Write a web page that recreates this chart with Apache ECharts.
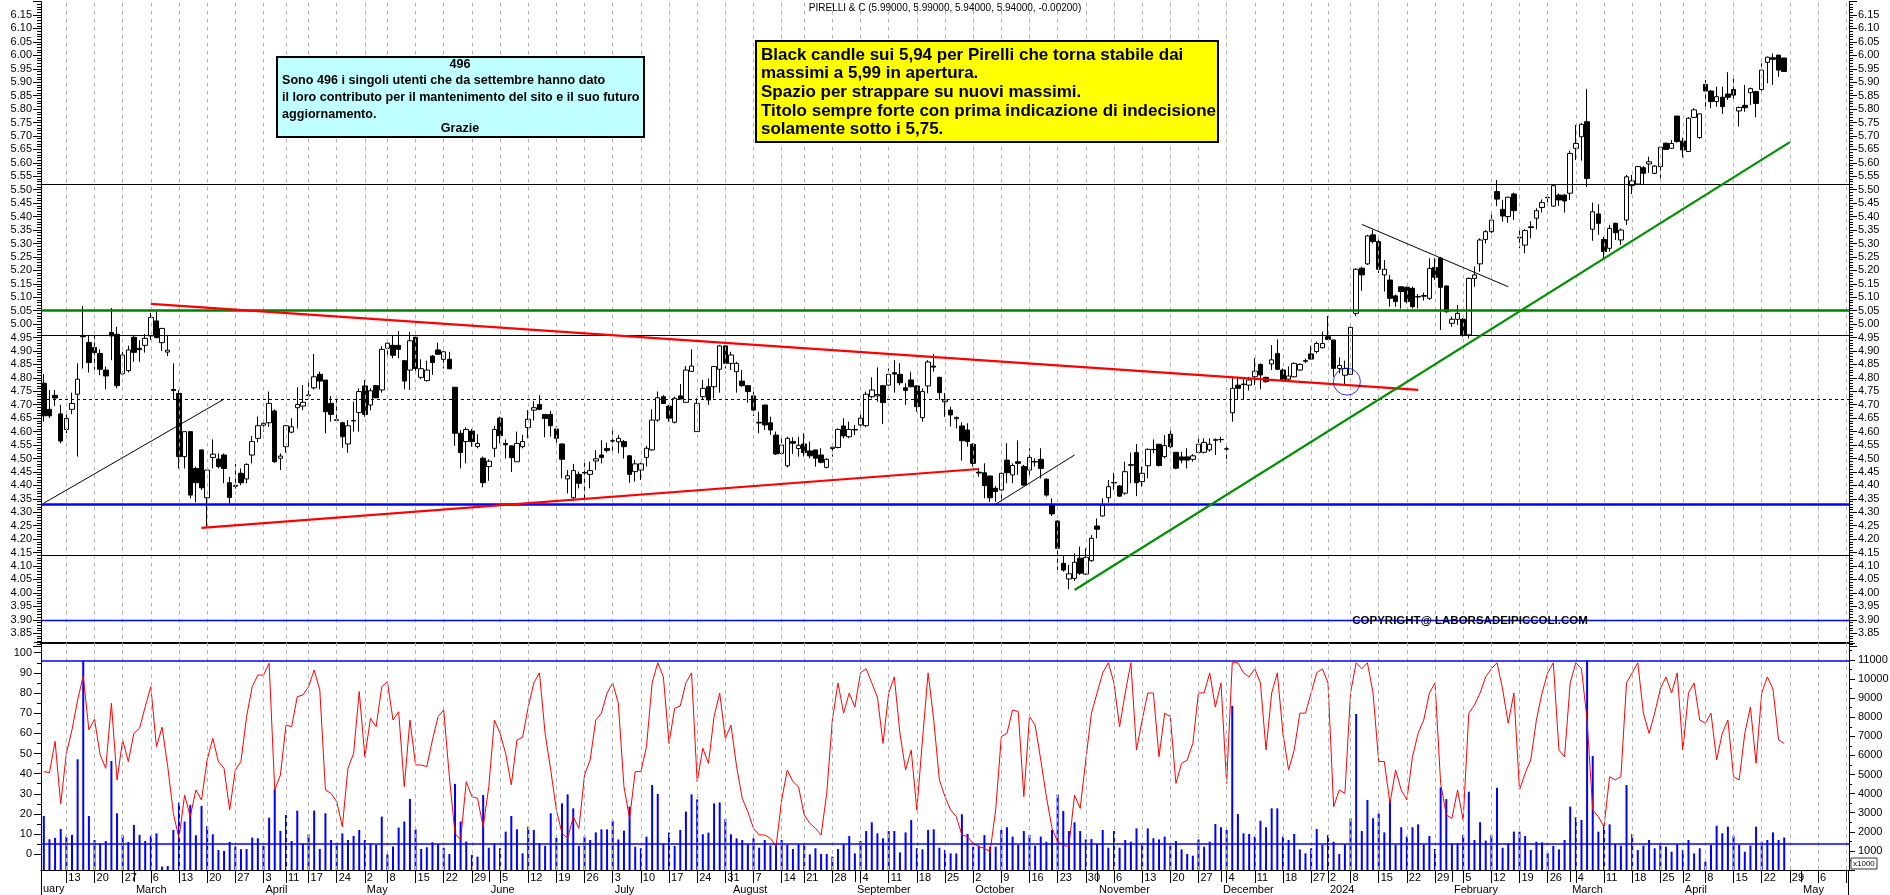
<!DOCTYPE html>
<html><head><meta charset="utf-8">
<script src="https://cdn.jsdelivr.net/npm/echarts/dist/echarts.min.js"></script>
<style>html,body{margin:0;padding:0;background:#fff;}#c{width:1890px;height:895px;}</style>
</head><body><div id="c"></div>
<script>
// ---------- DATA ----------
const holidays = ['2023-04-07','2023-04-10','2023-05-01','2023-08-15','2023-12-25','2023-12-26','2024-01-01','2024-03-29','2024-04-01'];
const firstDay = '2023-02-07', lastTradingDay = '2024-04-26', axisEnd = '2024-05-13';

const opens = [
4.780,4.683,4.735,4.666,4.608,4.683,4.739,4.958,4.932,4.913, 4.891,4.829,4.969,4.962,4.815,4.827,4.951,4.910,4.921,4.956,
5.012,4.931,4.896,4.757,4.742,4.507,4.600,4.463,4.532,4.354, 4.504,4.498,4.513,4.410,4.400,4.445,4.424,4.513,4.575,4.624,
4.633,4.677,4.501,4.544,4.598,4.689,4.695,4.736,4.763,4.813, 4.792,4.705,4.644,4.633,4.554,4.641,4.671,4.770,4.699,4.771,
4.755,4.910,4.921,4.921,4.864,4.829,4.951,4.802,4.790,4.881, 4.904,4.869,4.869,4.765,4.594,4.563,4.602,4.545,4.501,4.470,
4.538,4.650,4.556,4.547,4.488,4.544,4.615,4.680,4.701,4.664, 4.664,4.610,4.554,4.424,4.354,4.441,4.448,4.441,4.491,4.513,
4.537,4.566,4.562,4.563,4.510,4.451,4.457,4.504,4.532,4.643, 4.730,4.695,4.635,4.733,4.709,4.824,4.600,4.730,4.767,4.767,
4.832,4.919,4.854,4.823,4.788,4.771,4.733,4.635,4.699,4.633, 4.587,4.519,4.473,4.563,4.537,4.554,4.528,4.532,4.513,4.467,
4.537,4.541,4.621,4.581,4.608,4.625,4.622,4.730,4.733,4.771, 4.773,4.819,4.813,4.763,4.792,4.770,4.652,4.770,4.844,4.802,
4.711,4.680,4.648,4.621,4.606,4.553,4.449,4.447,4.435,4.389, 4.383,4.494,4.439,4.488,4.470,4.457,4.489,4.497,4.423,4.327,
4.267,4.110,4.052,4.054,4.129,4.070,4.120,4.249,4.286,4.354, 4.411,4.398,4.371,4.477,4.522,4.414,4.473,4.534,4.553,4.507,
4.590,4.523,4.506,4.506,4.497,4.522,4.523,4.532,4.570,4.571, 4.536,4.670,4.773,4.777,4.773,4.804,4.850,4.802,4.852,4.891,
4.829,4.795,4.804,4.829,4.864,4.889,4.898,4.912,4.953,4.941, 4.835,4.810,4.813,5.040,5.208,5.224,5.332,5.307,5.183,5.164,
5.105,5.139,5.137,5.133,5.103,5.106,5.096,5.211,5.245,5.142, 5.003,5.018,5.018,4.960,5.170,5.224,5.315,5.344,5.493,5.427,
5.400,5.484,5.323,5.294,5.362,5.394,5.434,5.472,5.439,5.480, 5.480,5.487,5.654,5.697,5.753,5.353,5.410,5.315,5.282,5.375,
5.313,5.387,5.515,5.521,5.582,5.596,5.561,5.586,5.673,5.654, 5.774,5.681,5.642,5.769,5.694,5.892,5.867,5.828,5.844,5.856,
5.873,5.793,5.814,5.861,5.865,5.873,5.974,5.991,6.001,5.990];
const highs = [
4.814,4.755,4.755,4.700,4.668,4.745,4.854,5.067,4.960,4.960, 4.906,4.842,5.060,4.990,4.897,4.920,4.960,4.940,4.963,5.042,
5.052,4.984,4.960,4.854,4.755,4.600,4.600,4.470,4.532,4.457, 4.571,4.519,4.519,4.432,4.480,4.463,4.482,4.584,4.656,4.643,
4.749,4.683,4.519,4.625,4.650,4.765,4.773,4.786,4.889,4.823, 4.792,4.732,4.724,4.637,4.643,4.711,4.761,4.792,4.761,4.773,
4.918,4.941,4.960,4.974,4.866,4.971,4.953,4.869,4.864,4.885, 4.931,4.900,4.897,4.765,4.606,4.616,4.610,4.590,4.507,4.497,
4.621,4.656,4.571,4.547,4.600,4.588,4.680,4.714,4.736,4.664, 4.677,4.621,4.556,4.457,4.480,4.451,4.485,4.488,4.531,4.568,
4.559,4.609,4.587,4.569,4.513,4.495,4.485,4.547,4.683,4.749, 4.736,4.699,4.730,4.777,4.844,4.906,4.724,4.792,4.798,4.842,
4.922,4.919,4.897,4.860,4.829,4.773,4.749,4.674,4.699,4.656, 4.600,4.575,4.581,4.579,4.581,4.594,4.563,4.532,4.538,4.501,
4.544,4.612,4.650,4.637,4.625,4.668,4.749,4.802,4.839,4.773, 4.835,4.866,4.854,4.780,4.823,4.773,4.761,4.866,4.889,4.804,
4.744,4.693,4.656,4.634,4.631,4.557,4.463,4.482,4.435,4.398, 4.447,4.557,4.482,4.567,4.476,4.538,4.501,4.538,4.426,4.352,
4.271,4.137,4.104,4.147,4.172,4.166,4.215,4.277,4.352,4.420, 4.447,4.401,4.488,4.522,4.554,4.470,4.538,4.571,4.553,4.587,
4.609,4.523,4.525,4.538,4.516,4.581,4.575,4.575,4.575,4.581, 4.550,4.804,4.804,4.798,4.804,4.873,4.854,4.804,4.922,4.943,
4.835,4.842,4.857,4.854,4.872,4.920,4.935,4.972,5.030,4.941, 4.876,4.864,4.990,5.208,5.214,5.332,5.350,5.315,5.238,5.183,
5.110,5.139,5.140,5.140,5.112,5.117,5.245,5.245,5.250,5.142, 5.028,5.071,5.022,5.174,5.214,5.319,5.350,5.418,5.536,5.462,
5.474,5.489,5.360,5.353,5.383,5.431,5.464,5.484,5.520,5.486, 5.484,5.645,5.741,5.749,5.875,5.452,5.446,5.325,5.369,5.377,
5.356,5.555,5.555,5.588,5.588,5.623,5.592,5.660,5.675,5.685, 5.774,5.694,5.770,5.803,5.784,5.908,5.871,5.883,5.883,5.937,
5.914,5.809,5.890,5.880,5.868,5.970,5.995,6.007,6.001,5.990];
const lows = [
4.637,4.650,4.695,4.556,4.594,4.665,4.507,4.835,4.820,4.830, 4.810,4.757,4.866,4.761,4.810,4.820,4.860,4.860,4.894,4.941,
4.947,4.900,4.881,4.718,4.463,4.463,4.352,4.337,4.383,4.243, 4.463,4.463,4.408,4.333,4.388,4.401,4.408,4.482,4.560,4.600,
4.618,4.484,4.457,4.522,4.594,4.612,4.680,4.720,4.757,4.757, 4.594,4.637,4.637,4.540,4.522,4.600,4.600,4.655,4.680,4.724,
4.745,4.881,4.873,4.873,4.757,4.755,4.823,4.795,4.786,4.811, 4.885,4.835,4.832,4.547,4.463,4.482,4.544,4.538,4.393,4.417,
4.505,4.556,4.500,4.450,4.488,4.538,4.575,4.641,4.680,4.579, 4.581,4.550,4.426,4.370,4.343,4.389,4.351,4.389,4.457,4.482,
4.522,4.517,4.519,4.500,4.410,4.414,4.420,4.470,4.529,4.637, 4.703,4.637,4.630,4.720,4.708,4.823,4.600,4.718,4.699,4.724,
4.745,4.835,4.829,4.745,4.767,4.708,4.658,4.594,4.606,4.588, 4.513,4.513,4.467,4.517,4.507,4.507,4.500,4.470,4.482,4.463,
4.507,4.538,4.575,4.575,4.587,4.618,4.616,4.724,4.711,4.628, 4.771,4.745,4.773,4.699,4.765,4.674,4.637,4.743,4.823,4.718,
4.655,4.619,4.612,4.492,4.544,4.470,4.432,4.352,4.339,4.339, 4.339,4.408,4.408,4.439,4.399,4.432,4.470,4.426,4.358,4.286,
4.085,4.079,4.013,4.044,4.067,4.067,4.116,4.203,4.284,4.336, 4.383,4.358,4.365,4.408,4.360,4.395,4.426,4.519,4.470,4.501,
4.538,4.460,4.482,4.463,4.488,4.519,4.519,4.525,4.513,4.559, 4.482,4.637,4.718,4.718,4.753,4.774,4.757,4.782,4.829,4.829,
4.790,4.792,4.802,4.827,4.855,4.869,4.891,4.910,4.941,4.804, 4.817,4.773,4.811,5.030,5.124,5.220,5.300,5.190,5.121,5.065,
5.065,5.058,5.077,5.058,5.058,5.087,5.090,5.164,4.978,5.042, 4.990,4.997,4.953,4.947,5.139,5.195,5.300,5.338,5.439,5.381,
5.377,5.387,5.282,5.263,5.319,5.353,5.415,5.452,5.437,5.439, 5.415,5.462,5.610,5.608,5.511,5.310,5.332,5.239,5.270,5.313,
5.294,5.369,5.484,5.518,5.518,5.563,5.558,5.542,5.648,5.654, 5.675,5.620,5.642,5.766,5.689,5.803,5.803,5.809,5.782,5.834,
5.828,5.735,5.790,5.815,5.769,5.856,5.896,5.890,5.920,5.940];
const closes = [
4.659,4.659,4.725,4.565,4.649,4.705,4.795,4.953,4.857,4.894, 4.832,4.807,4.956,4.771,4.885,4.904,4.895,4.905,4.947,5.025,
4.950,4.984,4.903,4.753,4.507,4.600,4.364,4.410,4.391,4.457, 4.516,4.470,4.463,4.355,4.397,4.410,4.478,4.563,4.622,4.631,
4.705,4.488,4.509,4.622,4.618,4.701,4.709,4.734,4.804,4.788, 4.674,4.664,4.642,4.581,4.622,4.640,4.749,4.664,4.752,4.726,
4.906,4.929,4.884,4.906,4.788,4.938,4.835,4.834,4.829,4.857, 4.888,4.897,4.834,4.594,4.522,4.608,4.563,4.556,4.410,4.490,
4.608,4.585,4.551,4.503,4.556,4.563,4.646,4.689,4.683,4.649, 4.622,4.575,4.497,4.436,4.455,4.408,4.446,4.455,4.499,4.504,
4.530,4.565,4.575,4.544,4.441,4.480,4.480,4.538,4.643,4.726, 4.705,4.650,4.724,4.721,4.829,4.844,4.705,4.761,4.718,4.842,
4.919,4.854,4.885,4.854,4.771,4.749,4.680,4.632,4.625,4.606, 4.517,4.550,4.575,4.557,4.549,4.522,4.510,4.501,4.486,4.497,
4.542,4.608,4.584,4.608,4.606,4.650,4.739,4.755,4.738,4.708, 4.813,4.814,4.782,4.753,4.767,4.693,4.749,4.859,4.840,4.745,
4.718,4.662,4.653,4.566,4.563,4.482,4.446,4.399,4.354,4.377, 4.445,4.447,4.474,4.482,4.401,4.504,4.487,4.463,4.364,4.294,
4.166,4.085,4.071,4.114,4.073,4.132,4.203,4.237,4.327,4.395, 4.409,4.360,4.451,4.475,4.410,4.445,4.534,4.533,4.474,4.548,
4.544,4.464,4.494,4.494,4.510,4.553,4.560,4.553,4.568,4.570, 4.535,4.761,4.761,4.775,4.792,4.825,4.811,4.786,4.867,4.832,
4.792,4.807,4.854,4.850,4.862,4.870,4.928,4.928,4.943,4.835, 4.846,4.835,4.988,5.204,5.183,5.328,5.307,5.204,5.204,5.096,
5.084,5.121,5.084,5.065,5.101,5.104,5.207,5.174,5.137,5.046, 5.018,5.040,4.960,5.170,5.183,5.313,5.344,5.387,5.465,5.402,
5.472,5.422,5.321,5.348,5.359,5.422,5.452,5.470,5.515,5.462, 5.458,5.635,5.672,5.743,5.542,5.418,5.375,5.270,5.356,5.340,
5.350,5.548,5.533,5.586,5.561,5.604,5.588,5.658,5.650,5.672, 5.679,5.648,5.766,5.797,5.782,5.867,5.828,5.846,5.809,5.844,
5.852,5.806,5.805,5.876,5.821,5.945,5.993,5.985,5.945,5.940];
const stoch = [
41,40.5,56,25,50,61.7,76.5,88.4,61.7,67, 49.3,42.6,74.9,36.8,56.7,46,60,62.5,73.2,83.1,
53.4,63,43.5,20.3,7.9,29.4,18.7,31.9,26.9,46.8, 57.5,46,42.6,22,41.8,46,68.3,83.1,88.9,88.9,
94.7,31.9,39.3,64.1,63.3,78.2,79,83.1,91.4,81.5, 31.9,30.2,26.1,13.7,42.6,50.1,80.7,48.4,67.4,63.3,
83.1,85.6,66.6,70.7,33.5,66.6,44.3,44.3,43.5,56.7, 68.3,71.6,38.5,10.4,7.1,36,28.6,27.8,13.7,33.5,
66.6,60,50,34.4,56.7,58,73,85,90,60, 41.8,22,10.4,7.9,18.7,12.9,39.3,46.8,66.6,70,
80,85,75,33.5,17.8,41,41,53.4,85,95, 88,55,72.4,73.6,85,90,36,52.6,45.1,68.3,
80,57.5,64.1,43.5,27.8,21.1,12.9,9.6,9.6,7.9, 3.8,27,41.8,36,33.5,19.5,15.4,12.9,9.6,30.2,
66.6,85,70,80,73,90,92,85,78,55, 80,88,60,41.8,51.7,22,56.7,90,66.6,36.9,
28.6,22,18.7,9.6,8.8,5.4,3.8,3,1.3,22, 58.4,60,71.6,70.8,28.6,68.3,64.1,46.8,28.6,12.9,
6.3,4.6,3.8,29.4,22.8,46.8,70,80,90,95, 85,63.3,80,95,51.7,66.6,80,80,48.4,70,
68.3,35.2,45,46.8,55,80,80,90,73,85, 35.2,95,95,90,88,92,85,51.7,80,90,
60,41.8,51.7,70,70,80,90,92,85,23.6, 31.9,30.2,80,95,92,95,80,46,46,25.3,
41.8,31.9,27,48.4,60,66.6,80,85,35.2,19.5, 17.8,31.9,17,70,74,80,88,92,95,82,
65,80,31.9,40.2,46.8,66.6,80,90,95,51.7, 48.4,85,95,92,66.6,22,18.7,13.7,38.5,36.9,
38.5,85,90,95,70,60,70,82,88,80, 90,51.7,80,85,66.6,65,70,46.8,60,66.6,
38.5,36.9,60,73,45.1,80,88,82,56.7,55];
const volume = [
2830,1610,1680,2150,1750,1840,5800,10950,2830,1570, 1400,1520,5710,2970,1820,1470,2360,1840,1520,1790,
1920,180,210,2100,3530,2540,3410,1820,3360,2310, 1870,1050,1000,1470,1230,1090,1100,1700,1660,1260,
2740,4230,2050,2880,1520,3110,1400,1870,3110,1100, 2970,1570,1430,1920,1570,1790,2100,1570,1400,1310,
2800,820,1230,2220,2540,3720,2130,1100,1190,1450, 1360,1170,840,4510,2540,1490,790,700,3930,1170,
1400,1140,2010,2830,2130,870,2270,2100,1400,1260, 2970,1690,3490,3960,3230,1260,1750,1570,1970,2130,
2130,2580,1600,2060,3320,1220,1140,1750,4450,3980, 1400,1960,1260,2100,3060,3960,3700,1870,1960,3490,
3540,2670,1870,1660,1570,1340,1660,1170,1570,1280, 1310,1570,1310,1100,1340,1340,820,1140,840,840,
700,1100,1360,1780,870,1520,2040,2500,1920,1660, 2040,2040,920,1970,2620,1140,1080,2100,2130,1170,
1050,870,870,2920,1890,1220,1280,1830,1220,1220, 2100,2240,1750,1310,2040,1830,1280,1750,1480,2100,
3960,3090,2040,2500,2040,1600,1620,1360,2100,1170, 2040,1170,1570,1480,2180,1340,2180,1660,1600,1750,
1280,1520,1080,840,750,1600,1220,1480,2410,2240, 2100,8600,2930,1920,1890,1750,2580,2240,3230,3230,
1750,1570,1890,1080,870,1140,2150,1310,1830,1480, 840,1340,2710,8170,2040,3670,2710,2970,1970,3670,
1310,2240,1750,2240,2390,1340,1780,1100,4330,3720, 1400,1400,1830,4100,1570,2500,1540,1830,4310,1170,
1400,2010,2010,1780,1050,1480,1450,900,1260,1080, 1570,3320,2760,2620,11000,5970,2010,2360,2390,1360,
1280,4450,1890,1050,1280,1570,1140,1400,1220,960, 1360,1050,1570,870,1140,440,1310,2320,1920,2270,
1800,1310,960,1280,2270,1480,1570,1970,1570,1700];
// horizontal price levels and volume reference levels
const priceLevels = [5.52, 5.052, 4.963, 4.721, 4.327, 4.141, 3.899];
const volumeLevels = [10950, 1400];
// trend lines: [start category index, start price, end category index, end price]
const trendLines = [
  [19, 5.075, 244, 4.755],
  [28, 4.242, 166, 4.461],
  [0, 4.334, 32, 4.721],
  [169, 4.330, 183, 4.513],
  [234, 5.371, 260, 5.139],
  [183, 4.011, 310, 5.677]
];
const circleMark = [231, 4.786];
const titleText = 'PIRELLI & C (5.99000, 5.99000, 5.94000, 5.94000, -0.00200)';
const noteCyan = ['496','Sono 496 i singoli utenti che da settembre hanno dato','il loro contributo per il mantenimento del sito e il suo futuro','aggiornamento.','Grazie'];
const noteYellow = ['Black candle sui 5,94 per Pirelli che torna stabile dai','massimi a 5,99 in apertura.','Spazio per strappare su nuovi massimi.','Titolo sempre forte con prima indicazione di indecisione','solamente sotto i 5,75.'];
const monthNames = ['January','February','March','April','May','June','July','August','September','October','November','December'];

// ---------- CATEGORIES ----------
function iso(d){return d.toISOString().slice(0,10);}
const dates = [];
for (let d = new Date(firstDay+'T00:00:00Z'); iso(d) <= axisEnd; d.setUTCDate(d.getUTCDate()+1)) {
  const w = d.getUTCDay(); const s = iso(d);
  if (w === 0 || w === 6) continue;
  if (s <= lastTradingDay && holidays.includes(s)) continue;
  dates.push(s);
}
const dObj = dates.map(s => new Date(s+'T00:00:00Z'));
function mondayKey(d){const t=new Date(d); t.setUTCDate(t.getUTCDate()-((t.getUTCDay()+6)%7)); return iso(t);}
const weekStart = dObj.map((d,i)=> i>0 && mondayKey(d)!==mondayKey(dObj[i-1]));
const weekLabel = weekStart.map((w,i)=> w && i < dates.length-2);
const monthStart = dObj.map((d,i)=> i>0 && d.getUTCMonth()!==dObj[i-1].getUTCMonth());

const candleData = opens.map((o,i)=>[o, closes[i], lows[i], highs[i]]);

// ---------- OPTION ----------
const FONT = "'Liberation Sans', Arial, sans-serif";
const L = 41, W = 1808;
const noLabel = {show:false};
const gridVLines = dates.filter((_,i)=>weekStart[i]).map(s=>({xAxis:s}));
const levelStyles = [
  {color:'#000',width:1,type:'solid'},
  {color:'#008000',width:2.6,type:'solid'},
  {color:'#000',width:1,type:'solid'},
  {color:'#000',width:1,type:[3,3]},
  {color:'#0000ff',width:2.6,type:'solid'},
  {color:'#000',width:1,type:'solid'},
  {color:'#0000ff',width:1.3,type:'solid'}
];
const trendStyles = [
  {color:'#ff0000',width:2.2,type:'solid'},{color:'#ff0000',width:2.2,type:'solid'},{color:'#000',width:1,type:'solid'},
  {color:'#000',width:1,type:'solid'},{color:'#000',width:1,type:'solid'},{color:'#009000',width:2.2,type:'solid'}
];
const baseML = {symbol:['none','none'], silent:true, animation:false, label:noLabel, emphasis:{disabled:true}};

const priceAxis = (pos)=>({
  type:'value', gridIndex:0, position:pos, min:3.80, max:6.20, interval:0.05, scale:true,
  axisLine:{show:true, lineStyle:{color:'#000',width:1}},
  axisTick:{show:true, length:8, lineStyle:{color:'#000'}},
  minorTick:{show:true, splitNumber:5, length:4, lineStyle:{color:'#000'}},
  splitLine:{show:false}, minorSplitLine:{show:false},
  axisLabel:{formatter:v=>v.toFixed(2), fontFamily:FONT, fontSize:11, color:'#000', margin:9, showMinLabel:false, showMaxLabel:false}
});
const txt = (x,y,text,font,align)=>({type:'text', z:41, x, y, style:{text, font, fill:'#000', align, verticalAlign:'middle', textAlign:align, textVerticalAlign:'middle'}});

const option = {
  animation:false,
  backgroundColor:'#fff',
  grid:[
    {left:L, width:W, top:1.56, height:645.1, outerBoundsMode:'none', containLabel:false},
    {left:L, width:W, top:643, height:227, outerBoundsMode:'none', containLabel:false},
    {left:L, width:W, top:642.6, height:211.7, outerBoundsMode:'none', containLabel:false}
  ],
  xAxis:[
    {type:'category', gridIndex:0, data:dates, boundaryGap:true, show:false},
    {type:'category', gridIndex:1, data:dates, boundaryGap:true, position:'bottom',
      axisLine:{show:true, lineStyle:{color:'#000',width:1}},
      axisTick:{show:true, alignWithLabel:true, interval:(i)=>weekStart[i], length:13, lineStyle:{color:'#000'}},
      axisLabel:{show:true, interval:(i)=>weekLabel[i], formatter:(v)=>String(parseInt(v.slice(8),10)), align:'left', padding:[0,0,0,2], margin:2, fontFamily:FONT, fontSize:11, color:'#000'},
      splitLine:{show:false}},
    {type:'category', gridIndex:1, data:dates, boundaryGap:true, position:'bottom', offset:13,
      axisLine:{show:true, lineStyle:{color:'#000',width:1}},
      axisTick:{show:true, alignWithLabel:true, interval:(i)=>monthStart[i], length:12, lineStyle:{color:'#000'}},
      axisLabel:{show:true, interval:(i)=>monthStart[i], formatter:(v)=>{const m=parseInt(v.slice(5,7),10)-1; return m===0? v.slice(0,4): monthNames[m];}, align:'left', padding:[0,0,0,2], margin:1, fontFamily:FONT, fontSize:11, color:'#000'},
      splitLine:{show:false}},
    {type:'category', gridIndex:2, data:dates, boundaryGap:true, show:false},
    {type:'category', gridIndex:1, data:dates, boundaryGap:true, position:'top',
      axisLine:{show:true, lineStyle:{color:'#000',width:2}}, axisTick:{show:false}, axisLabel:{show:false}}
  ],
  yAxis:[
    priceAxis('left'),
    priceAxis('right'),
    {type:'value', gridIndex:1, position:'left', min:0, max:11890,
      axisLine:{show:true, lineStyle:{color:'#000'}}, axisTick:{show:false}, axisLabel:{show:false}, splitLine:{show:false}},
    {type:'value', gridIndex:1, position:'right', min:0, max:11890, interval:1000,
      axisLine:{show:true, lineStyle:{color:'#000'}},
      axisTick:{show:true, length:6, lineStyle:{color:'#000'}},
      minorTick:{show:true, splitNumber:2, length:3, lineStyle:{color:'#000'}},
      splitLine:{show:false},
      axisLabel:{formatter:(v)=>String(Math.round(v)), fontFamily:FONT, fontSize:11, color:'#000', margin:9, showMinLabel:false, showMaxLabel:false}},
    {type:'value', gridIndex:2, position:'left', min:0, max:105, interval:10,
      axisLine:{show:false}, axisTick:{show:true, length:7, lineStyle:{color:'#000'}},
      minorTick:{show:true, splitNumber:2, length:4, lineStyle:{color:'#000'}},
      splitLine:{show:false},
      axisLabel:{formatter:(v)=>String(Math.round(v)), fontFamily:FONT, fontSize:11, color:'#000', margin:9, showMaxLabel:false}}
  ],
  series:[
    {type:'line', name:'gridPrice', xAxisIndex:0, yAxisIndex:0, data:[], z:1, silent:true,
      markLine:Object.assign({}, baseML, {lineStyle:{color:'#b4b4b4', width:1, type:[4,4]}, data:gridVLines})},
    {type:'line', name:'gridLower', xAxisIndex:1, yAxisIndex:3, data:[], z:1, silent:true,
      markLine:Object.assign({}, baseML, {lineStyle:{color:'#b4b4b4', width:1, type:[4,4]}, data:gridVLines})},
    {type:'candlestick', name:'Pirelli', xAxisIndex:0, yAxisIndex:0, data:candleData, barWidth:5, z:3,
      itemStyle:{color:'#ffffff', color0:'#000000', borderColor:'#000000', borderColor0:'#000000', borderWidth:1}},
    {type:'line', name:'levels', xAxisIndex:0, yAxisIndex:0, data:[], z:4, silent:true,
      markLine:Object.assign({}, baseML, {data:priceLevels.map((v,i)=>({yAxis:v, lineStyle:levelStyles[i]}))})},
    {type:'line', name:'trends', xAxisIndex:0, yAxisIndex:0, data:[], z:5, silent:true,
      markLine:Object.assign({}, baseML, {lineStyle:{type:'solid'}, data:trendLines.map((t,i)=>[
        {coord:[dates[t[0]], t[1]], lineStyle:trendStyles[i]},
        {coord:[dates[t[2]], t[3]]}])})},
    {type:'scatter', name:'circle', xAxisIndex:0, yAxisIndex:0, z:6, silent:true,
      data:[[dates[circleMark[0]], circleMark[1]]], symbol:'circle', symbolSize:27, symbolOffset:[2,0],
      itemStyle:{color:'rgba(0,0,0,0)', borderColor:'#0000ff', borderWidth:1}},
    {type:'bar', name:'volume', xAxisIndex:1, yAxisIndex:3, data:volume, barWidth:2, z:2,
      itemStyle:{color:'#0000ff'},
      markLine:Object.assign({}, baseML, {lineStyle:{color:'#0000ff', width:1.5, type:'solid'}, data:volumeLevels.map(v=>({yAxis:v}))})},
    {type:'line', name:'stoch', xAxisIndex:3, yAxisIndex:4, data:stoch, z:3, showSymbol:false, symbol:'none',
      lineStyle:{color:'#ff0000', width:1}, silent:true}
  ],
  graphic:[
    {type:'text', x:945, y:8, z:50, style:{text:titleText, font:"10px "+FONT, fill:'#000', align:'center', verticalAlign:'middle', textAlign:'center', textVerticalAlign:'middle'}},
    {type:'rect', z:40, shape:{x:277, y:57, width:367, height:80}, style:{fill:'#c0ffff', stroke:'#000', lineWidth:2}},
    txt(460, 65, noteCyan[0], "bold 12.6px "+FONT, 'center'),
    txt(282, 81, noteCyan[1], "bold 12.6px "+FONT, 'left'),
    txt(282, 98, noteCyan[2], "bold 12.6px "+FONT, 'left'),
    txt(282, 115, noteCyan[3], "bold 12.6px "+FONT, 'left'),
    txt(460, 129, noteCyan[4], "bold 12.6px "+FONT, 'center'),
    {type:'rect', z:40, shape:{x:756, y:41, width:462, height:101}, style:{fill:'#ffff00', stroke:'#000', lineWidth:2}},
    ...noteYellow.map((t,i)=>txt(761, 55+i*18.7, t, "bold 17px "+FONT, 'left')),
    txt(1470, 621, 'COPYRIGHT@ LABORSADEIPICCOLI.COM', "bold 11.5px "+FONT, 'center'),
    txt(43, 889, 'uary', "11px "+FONT, 'left'),
    {type:'rect', z:40, shape:{x:1851, y:858, width:26, height:11}, style:{fill:'#fff', stroke:'#000', lineWidth:0.8}},
    txt(1853, 864, 'x1000', "8px "+FONT, 'left'),
    {type:'line', z:40, shape:{x1:41.5, y1:870, x2:41.5, y2:895}, style:{stroke:'#000', lineWidth:1}},
    {type:'line', z:40, shape:{x1:1848.5, y1:870, x2:1848.5, y2:895}, style:{stroke:'#000', lineWidth:1}}
  ]
};
const chart = echarts.init(document.getElementById('c'), null, {renderer:'canvas', width:1890, height:895});
chart.setOption(option);
</script>
</body></html>
